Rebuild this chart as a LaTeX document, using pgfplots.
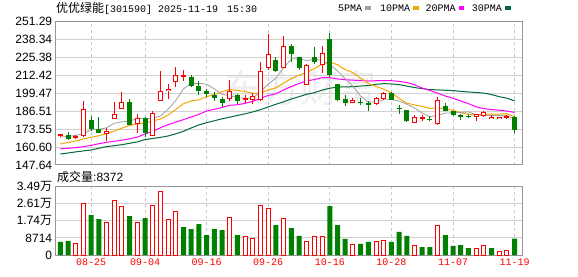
\documentclass[border=0pt]{standalone}
\usepackage{pgfplots}
\usepackage{pgfplotstable}
\pgfplotsset{compat=1.18}
\usepackage{fontspec}
\setmainfont{Liberation Sans}
\newfontfamily\cjk{Noto Sans CJK SC}
\newfontfamily\mono{Liberation Mono}

\definecolor{kred}{RGB}{255,0,0}
\definecolor{kgreen}{RGB}{0,128,0}
\definecolor{maA}{RGB}{160,160,160}
\definecolor{maB}{RGB}{245,166,0}
\definecolor{maC}{RGB}{255,0,255}
\definecolor{maD}{RGB}{0,105,55}
\definecolor{hgrid}{RGB}{208,208,208}
\definecolor{vgrid}{RGB}{200,200,200}
\definecolor{bord}{RGB}{150,150,150}
\definecolor{wm}{RGB}{238,238,238}

\pgfplotstableread{
i O H L C up
0 168.7 170.3 167.9 169.4 1
1 169.1 171.2 165.7 166.6 0
2 167.5 169.1 166.2 168.2 1
3 168.6 194.1 168.2 187.9 1
4 179.9 183.0 171.96 173.9 0
5 173.4 182.3 170.5 170.7 0
6 170.2 174.2 165.3 171.96 1
7 181.0 192.9 180.7 184.3 1
8 188.8 200.4 188.3 192.9 1
9 193.1 195.3 176.5 176.8 0
10 177.3 184.5 171.0 180.9 1
11 181.6 182.6 167.9 171.0 0
12 169.1 186.9 168.6 184.7 1
13 194.3 215.8 194.1 200.85 1
14 201.1 205.9 195.5 202.5 1
15 208.1 218.2 203.7 212.4 1
16 211.7 216.0 208.1 212.4 1
17 210.95 212.9 203.97 204.9 0
18 204.7 208.1 198.4 200.85 0
19 201.1 202.8 196.75 199.2 0
20 198.2 200.4 194.1 195.8 0
21 195.3 197.0 189.3 192.2 0
22 195.8 209.0 193.6 200.4 1
23 198.2 198.9 192.0 194.1 0
24 195.3 197.95 192.4 196.0 1
25 194.6 199.7 191.7 197.0 1
26 194.6 222.0 194.1 215.5 1
27 218.4 242.3 216.0 227.8 1
28 223.5 225.4 214.8 215.8 0
29 218.4 241.1 218.2 233.4 1
30 233.6 234.8 221.8 228.1 0
31 225.4 225.9 216.5 217.7 0
32 206.1 220.6 205.9 219.6 1
33 225.4 232.9 220.8 222.0 0
34 219.9 233.6 213.8 228.5 1
35 238.5 243.0 211.0 213.0 0
36 206.1 206.5 194.1 194.8 0
37 195.3 198.4 190.0 192.2 0
38 193.1 196.0 192.7 194.3 1
39 193.1 196.0 190.8 192.5 0
40 192.2 193.6 186.9 191.2 0
41 192.2 197.0 191.2 195.8 1
42 196.0 200.4 194.3 199.4 1
43 199.9 200.1 194.6 194.8 0
44 188.9 191.2 184.7 188.2 0
45 187.4 187.6 178.5 179.2 0
46 178.5 184.0 178.5 182.3 1
47 180.9 183.5 179.2 181.6 1
48 180.9 183.3 179.2 180.2 0
49 177.3 196.5 176.8 194.3 1
50 190.0 192.2 186.4 186.9 0
51 186.4 186.9 183.3 183.8 0
52 184.0 184.5 180.4 182.3 0
53 183.3 184.7 181.6 182.6 0
54 182.8 184.3 179.7 184.0 1
55 183.6 186.9 182.4 185.4 1
56 181.1 184.0 181.0 181.9 1
57 180.9 182.3 180.9 182.1 1
58 182.1 183.8 181.1 182.8 1
59 182.3 183.0 170.5 173.0 0
}\candles

\pgfplotstableread{
i m5 m10 m20 m30
0 167.8 162.8 159.3 155.6
1 168.3 163.9 159.7 156.3
2 169.0 165.0 160.2 157.1
3 170.3 166.5 160.9 157.8
4 173.1 167.6 161.8 158.5
5 173.4 168.8 163.0 159.7
6 174.5 170.3 164.0 160.9
7 177.8 172.2 164.8 161.6
8 178.8 174.3 165.5 162.3
9 179.3 176.2 166.6 163.3
10 181.4 177.4 167.8 164.3
11 181.2 177.9 170.0 166.0
12 181.3 179.5 172.0 166.8
13 182.9 180.8 174.5 167.6
14 188.0 183.7 176.8 168.6
15 194.3 187.8 178.6 170.2
16 202.6 191.9 180.4 172.0
17 206.6 193.9 182.3 174.4
18 206.6 194.7 184.2 176.6
19 206.0 197.0 186.6 178.2
20 202.6 198.5 187.9 179.6
21 198.6 200.6 189.2 181.0
22 197.7 202.2 190.8 182.2
23 196.3 201.5 191.1 183.4
24 195.7 200.8 192.2 184.6
25 195.9 199.3 193.6 186.0
26 200.6 199.6 195.7 187.6
27 206.1 201.9 197.9 189.6
28 210.4 203.4 199.1 191.5
29 217.9 206.8 201.9 193.3
30 224.1 210.0 204.3 195.3
31 224.6 212.6 206.6 197.0
32 222.9 214.5 208.3 198.7
33 224.2 217.3 209.4 199.9
34 223.2 220.5 210.7 201.7
35 220.2 222.1 210.7 203.1
36 215.6 220.1 209.8 203.9
37 210.1 216.5 209.2 204.1
38 204.6 214.4 208.9 204.2
39 197.4 210.3 208.6 204.7
40 193.0 206.6 208.3 205.0
41 193.2 204.4 208.5 205.9
42 194.7 202.4 208.5 206.4
43 194.8 199.7 208.5 206.2
44 193.9 195.7 208.1 205.7
45 191.5 192.3 207.2 204.6
46 188.8 191.0 205.6 203.6
47 185.2 190.0 203.2 202.8
48 182.4 188.6 201.5 202.1
49 183.6 188.7 199.5 201.9
50 185.1 188.3 197.5 201.6
51 185.4 187.1 195.8 201.4
52 185.5 185.4 193.9 200.8
53 186.0 184.2 191.9 200.4
54 183.9 183.7 189.7 200.0
55 183.6 184.4 188.3 199.6
56 183.3 184.4 187.7 198.5
57 183.3 184.4 187.2 197.0
58 183.3 184.7 186.6 195.9
59 181.1 182.5 185.6 193.9
}\ma

\pgfplotstableread{
i V up
0 6700 0
1 7150 0
2 5900 1
3 26350 1
4 20400 0
5 18370 0
6 16750 1
7 27890 1
8 24830 1
9 19900 0
10 16750 1
11 18880 0
12 25350 1
13 32480 1
14 18200 1
15 22280 1
16 14290 0
17 13270 0
18 15820 0
19 10200 0
20 13270 0
21 12760 0
22 19220 1
23 10200 0
24 9530 1
25 8600 1
26 25350 1
27 23820 1
28 15230 0
29 18800 1
30 13780 0
31 9700 0
32 7100 1
33 9530 1
34 9530 1
35 25000 0
36 15250 0
37 8170 0
38 5450 1
39 5620 0
40 6640 0
41 6640 1
42 7150 1
43 6640 0
44 11740 0
45 9700 0
46 4940 1
47 4080 0
48 4080 0
49 15150 1
50 10100 0
51 4600 0
52 5100 0
53 3570 0
54 3450 1
55 4900 1
56 3570 0
57 2000 1
58 2380 1
59 8372 0
}\vol

\pgfplotsset{kbase/.style={
  scale only axis, anchor=south west, width=467pt,
  xmin=-0.6, xmax=60.05,
  axis line style={draw=bord, line width=1pt},
  major tick length=0pt,
  xtick={4,11,19,27,35,43,51,59},
  xmajorgrids, ymajorgrids,
  x grid style={draw=vgrid, dash pattern=on 3pt off 3pt, line width=1pt},
  y grid style={draw=hgrid, line width=1pt},
  yticklabel style={font=\fontsize{12}{12}\selectfont, text=black},
  scaled y ticks=false,
},
candle/.style={draw=none, mark=none, forget plot,
  error bars/.cd, y dir=plus, y explicit, error mark=none,
  error bar style={#1}},
}

\begin{document}
\begin{tikzpicture}
\useasboundingbox[fill=white] (0,0) rectangle (578pt,276pt);
\node[text=wm, inner sep=0] at (300pt,188pt) {\cjk\fontsize{38}{38}\selectfont 东方财富};

% title and legend
\node[anchor=west, inner sep=0] at (56pt,268pt) {{\cjk\fontsize{12}{12}\selectfont 优优绿能}{\mono\fontsize{10}{10}\selectfont[301590] 2025-11-19\hspace{3pt} 15:30}};
\node[anchor=west, inner sep=0] at (338pt,268pt) {\mono\fontsize{10}{10}\selectfont 5PMA};
\fill[maA] (365.3pt,266pt) rectangle (370.7pt,270pt);
\node[anchor=west, inner sep=0] at (380pt,268pt) {\mono\fontsize{10}{10}\selectfont 10PMA};
\fill[maB] (413.3pt,266pt) rectangle (418.7pt,270pt);
\node[anchor=west, inner sep=0] at (425.3pt,268pt) {\mono\fontsize{10}{10}\selectfont 20PMA};
\fill[maC] (459pt,266pt) rectangle (464.3pt,270pt);
\node[anchor=west, inner sep=0] at (471.7pt,268pt) {\mono\fontsize{10}{10}\selectfont 30PMA};
\fill[maD] (505pt,266pt) rectangle (510.7pt,270pt);

\node[anchor=west, inner sep=0] at (57pt,99pt) {{\cjk\fontsize{12}{12}\selectfont 成交量}{\fontsize{12}{12}\selectfont :8372}};

% price panel
\begin{axis}[kbase,
  at={(55.7pt,111pt)}, height=143.5pt,
  ymin=147.635, ymax=251.295,
  ytick={147.64,160.60,173.55,186.51,199.47,212.42,225.38,238.34,251.29},
  yticklabels={147.64,160.60,173.55,186.51,199.47,212.42,225.38,238.34,251.29},
  xticklabels={},
]
\addplot[maD, line width=1pt] table[x=i, y=m30] {\ma};
\addplot[maC, line width=1pt] table[x=i, y=m20] {\ma};
\addplot[maB, line width=1pt] table[x=i, y=m10] {\ma};
\addplot[maA, line width=0.8pt] table[x=i, y=m5] {\ma};
% wicks
\addplot[kred, restrict expr to domain={\thisrow{up}}{1:1},
  candle={draw=kred, line width=1pt}]
  table[x=i, y=L, y error plus expr=\thisrow{H}-\thisrow{L}] {\candles};
\addplot[kgreen, restrict expr to domain={\thisrow{up}}{0:0},
  candle={draw=kgreen, line width=1pt}]
  table[x=i, y=L, y error plus expr=\thisrow{H}-\thisrow{L}] {\candles};
% red bodies (hollow)
\addplot[kred, restrict expr to domain={\thisrow{up}}{1:1},
  candle={draw=kred, line width=5pt}]
  table[x=i, y expr=\thisrow{O}-0.36, y error plus expr=\thisrow{C}-\thisrow{O}+0.72] {\candles};
\addplot[white, restrict expr to domain={\thisrow{up}}{1:1},
  candle={draw=white, line width=3pt}]
  table[x=i, y expr=\thisrow{O}+0.36, y error plus expr={max(\thisrow{C}-\thisrow{O}-0.72,0)}] {\candles};
% green bodies
\addplot[kgreen, restrict expr to domain={\thisrow{up}}{0:0},
  candle={draw=kgreen, line width=5pt}]
  table[x=i, y=C, y error plus expr=\thisrow{O}-\thisrow{C}] {\candles};
\end{axis}

% volume panel
\begin{axis}[kbase,
  at={(55.7pt,21pt)}, height=68.3pt,
  ymin=0, ymax=34860,
  ytick={0,8714,17428,26142,34856},
  yticklabels={0,8714,1.74{\cjk 万},2.61{\cjk 万},3.49{\cjk 万}},
  xticklabels={08-25,09-04,09-16,09-26,10-16,10-28,11-07,11-19},
  xticklabel style={font=\mono\fontsize{10}{10}\selectfont, text=kred},
]
\addplot[ybar, bar width=5pt, bar shift=0pt, fill=kgreen, draw=none,
  restrict expr to domain={\thisrow{up}}{0:0}] table[x=i, y=V] {\vol};
\addplot[ybar, bar width=4pt, bar shift=0pt, fill=white, draw=kred, line width=1pt,
  restrict expr to domain={\thisrow{up}}{1:1}] table[x=i, y=V] {\vol};
\end{axis}
\end{tikzpicture}
\end{document}
